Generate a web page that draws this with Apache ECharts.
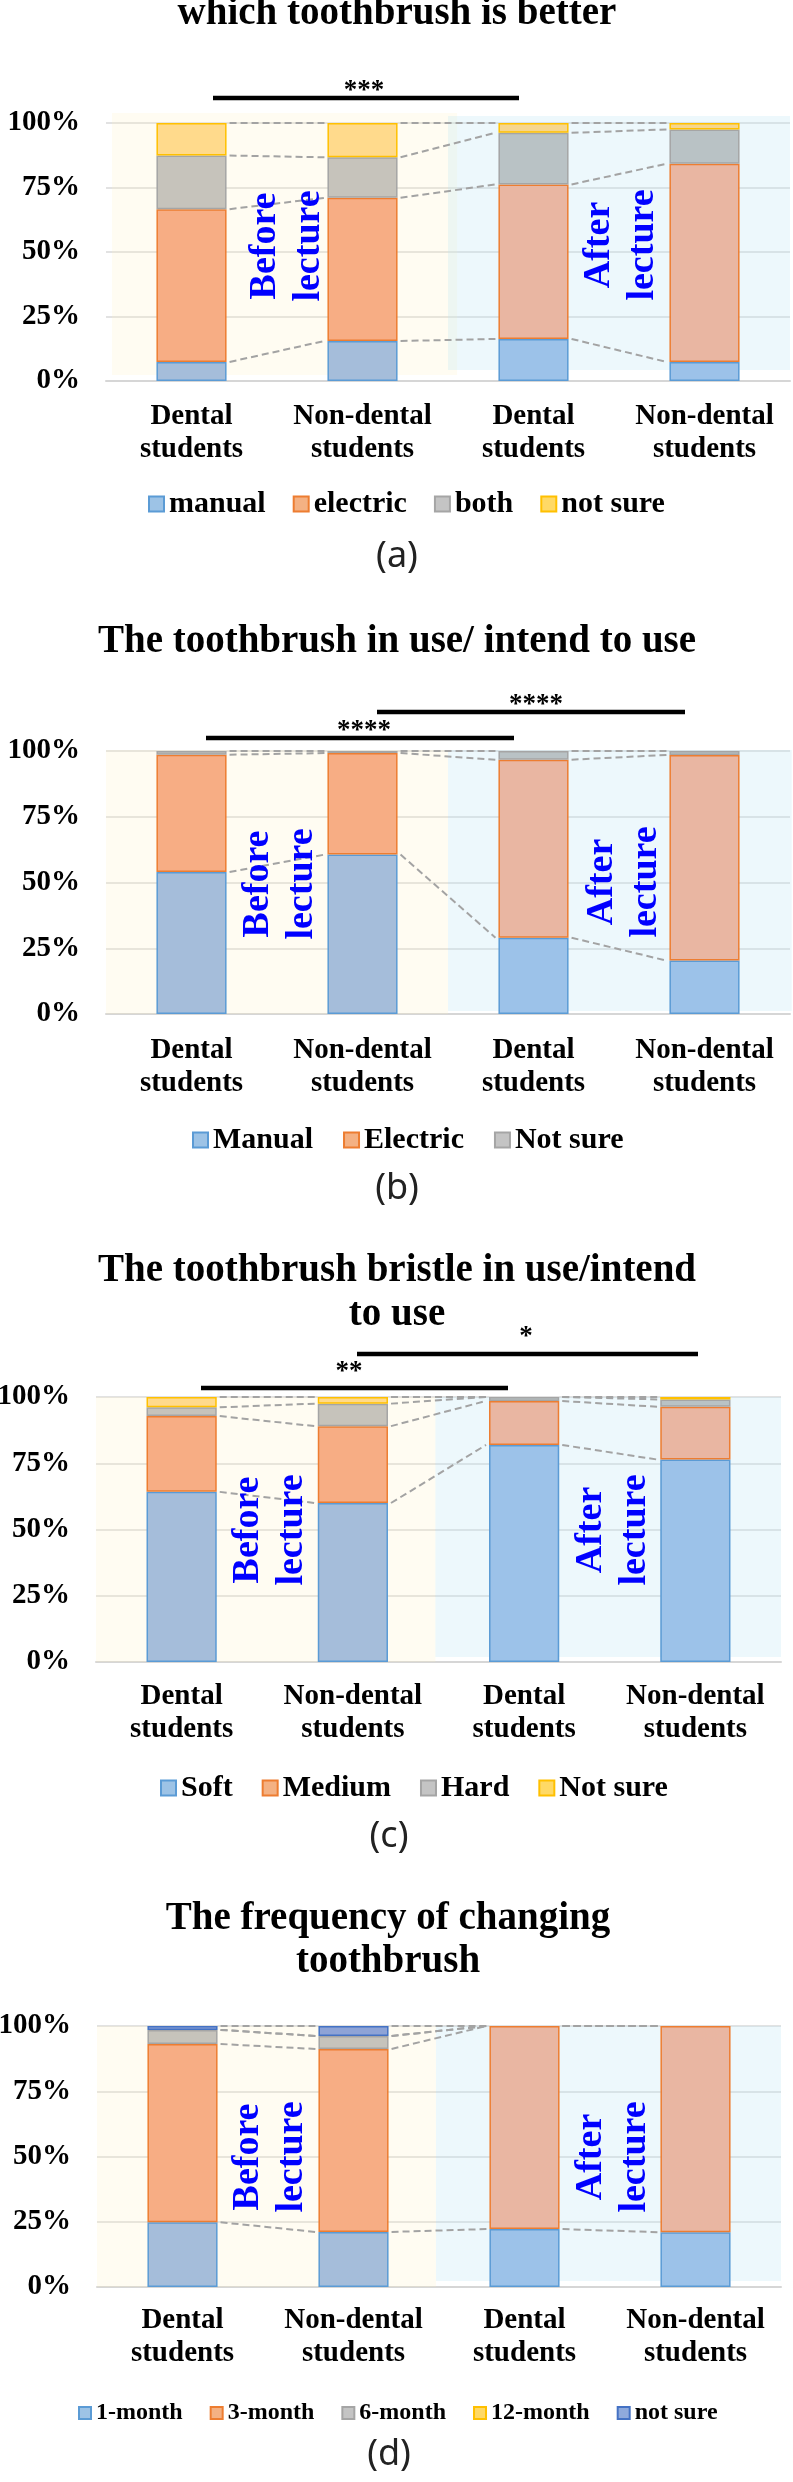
<!DOCTYPE html>
<html>
<head>
<meta charset="utf-8">
<style>
html,body{margin:0;padding:0;background:#fff;}
.p{position:absolute;left:0;width:793px;}
</style>
<script src="https://cdn.jsdelivr.net/npm/echarts@6/dist/echarts.min.js"></script>
</head>
<body>
<div id="pa" class="p" style="top:0;height:620px"></div>
<div id="pb" class="p" style="top:620px;height:620px"></div>
<div id="pc" class="p" style="top:1240px;height:620px"></div>
<div id="pd" class="p" style="top:1860px;height:622px"></div>
<script>
// ---------- DATA ----------
const categories = ['Dental\nstudents', 'Non-dental\nstudents', 'Dental\nstudents', 'Non-dental\nstudents'];
const yTicks = [0, 25, 50, 75, 100];

// (a) which toothbrush is better
const aTitle = 'which toothbrush is better';
const aNames = ['manual', 'electric', 'both', 'not sure'];
const aManual   = [7.4, 15.5, 16.3, 7.4];
const aElectric = [59.2, 55.5, 59.9, 76.8];
const aBoth     = [20.8, 15.7, 20.0, 13.3];
const aNotSure  = [12.6, 13.3, 3.8, 2.5];

// (b) The toothbrush in use/ intend to use
const bTitle = 'The toothbrush in use/ intend to use';
const bNames = ['Manual', 'Electric', 'Not sure'];
const bManual   = [54.0, 60.6, 29.0, 20.3];
const bElectric = [44.6, 38.6, 67.7, 78.2];
const bNotSure  = [1.4, 0.8, 3.3, 1.5];

// (c) The toothbrush bristle in use/intend to use
const cTitle = 'The toothbrush bristle in use/intend\nto use';
const cNames = ['Soft', 'Medium', 'Hard', 'Not sure'];
const cSoft    = [64.2, 60.0, 81.9, 76.4];
const cMedium  = [28.6, 29.0, 16.6, 19.9];
const cHard    = [3.3, 8.5, 1.5, 2.8];
const cNotSure = [3.9, 2.5, 0, 0.9];

// (d) The frequency of changing toothbrush
const dTitle = 'The frequency of changing\ntoothbrush';
const dNames = ['1-month', '3-month', '6-month', '12-month', 'not sure'];
const d1m  = [24.8, 21.1, 22.2, 21.0];
const d3m  = [68.3, 70.1, 77.8, 79.0];
const d6m  = [5.4, 5.0, 0, 0];
const d12m = [0, 0, 0, 0];
const dNS  = [1.5, 3.8, 0, 0];

const periodLabels = ['Before\nlecture', 'After\nlecture'];

// ---------- STYLE ----------
const SERIF = 'Liberation Serif';
// [legend fill, before-lecture fill, after-lecture fill, border]
const C = {
  blue:   ['#9DC3E6', '#A5BDDA', '#9CC2E9', '#5B9BD5'],
  orange: ['#F4B183', '#F7AD84', '#E9B6A2', '#ED7D31'],
  gray:   ['#C4C4C4', '#C6C3BB', '#B9C2C5', '#A5A5A5'],
  yellow: ['#FFD966', '#FFDA8C', '#F6D68E', '#FFC000'],
  navy:   ['#8FAADC', '#8EA3D6', '#8EA8DC', '#4472C4']
};
const BEFORE_TINT = 'rgba(255,240,190,0.2)';
const AFTER_TINT  = 'rgba(190,230,245,0.27)';

function txt(size) {
  return { color: '#000', fontFamily: SERIF, fontWeight: 'bold', fontSize: size };
}

function makePanel(id, cfg) {
  const chart = echarts.init(document.getElementById(id), null, { renderer: 'canvas' });
  const n = categories.length;
  const series = cfg.series.map(s => ({
    name: s.name, type: 'bar', stack: 'tot', barWidth: '41%',
    data: s.data.map((v, i) => v === 0 ? '-' : { value: v, itemStyle: { color: i < 2 ? s.col[1] : s.col[2] } }),
    itemStyle: { color: s.col[0], borderColor: s.col[3], borderWidth: 1.5 },
    emphasis: { disabled: true }, silent: true, z: 3
  }));
  const cum = [];
  for (let i = 0; i < n; i++) {
    let acc = 0;
    cum.push(cfg.series.map(s => (acc += s.data[i])));
  }
  const lineData = [];
  for (let i = 0; i < n - 1; i++)
    for (let k = 0; k < cfg.series.length; k++)
      lineData.push([i, cum[i][k], cum[i + 1][k]]);

  series.push({
    type: 'custom', silent: true, z: 1, clip: false,
    encode: { x: 0, y: 2 },
    data: cfg.bands.map(b => [b.from, b.to, b.top, b.bottom, b.padL, b.padR]),
    renderItem: (params, api) => {
      const band = api.size([1, 0])[0];
      const pT = api.coord([api.value(0), api.value(2)]);
      const pB = api.coord([api.value(1), api.value(3)]);
      const x1 = pT[0] - band / 2 + api.value(4) * band;
      const x2 = pB[0] + band / 2 + api.value(5) * band;
      return { type: 'rect', shape: { x: x1, y: pT[1], width: x2 - x1, height: pB[1] - pT[1] },
               style: { fill: params.dataIndex === 0 ? BEFORE_TINT : AFTER_TINT } };
    }
  });
  series.push({
    type: 'custom', silent: true, z: 4, clip: false,
    encode: { x: 0, y: 1 },
    data: lineData,
    renderItem: (params, api) => {
      const i = api.value(0);
      const p1 = api.coord([i, api.value(1)]);
      const p2 = api.coord([i + 1, api.value(2)]);
      const half = api.size([1, 0])[0] * 0.41 / 2;
      return { type: 'line', shape: { x1: p1[0] + half + 3, y1: p1[1], x2: p2[0] - half - 3, y2: p2[1] },
               style: { stroke: '#A3A3A3', lineWidth: 2, lineDash: [7, 4] } };
    }
  });

  const g = [];
  g.push({ type: 'text', x: cfg.title.x, y: cfg.title.y, z: 100,
    style: { text: cfg.title.text, fontFamily: SERIF, fontWeight: 'bold', fontSize: 39, fill: '#000', align: 'center', verticalAlign: 'middle', lineHeight: cfg.title.lh || 44 } });
  g.push({ type: 'text', x: cfg.tag.x, y: cfg.tag.y, z: 100,
    style: { text: cfg.tag.text, fontFamily: 'Noto Sans', fontSize: 36, fill: '#222', align: 'center', verticalAlign: 'middle' } });
  (cfg.sig || []).forEach(s => {
    g.push({ type: 'line', z: 100, shape: { x1: s.x1, y1: s.y, x2: s.x2, y2: s.y }, style: { stroke: '#000', lineWidth: 4.5 } });
    g.push({ type: 'text', x: s.tx, y: s.ty, z: 100,
      style: { text: s.text, fontFamily: SERIF, fontWeight: 'bold', fontSize: 27, fill: '#000', align: 'center', verticalAlign: 'middle' } });
  });
  cfg.period.forEach((p, i) => {
    g.push({ type: 'text', x: p.x, y: p.y, rotation: Math.PI / 2, z: 100,
      style: { text: periodLabels[i], fontFamily: SERIF, fontWeight: 'bold', fontSize: 38, fill: '#0000FF', align: 'center', verticalAlign: 'middle', lineHeight: 44 } });
  });

  chart.setOption({
    animation: false,
    textStyle: { fontFamily: SERIF, fontWeight: 'bold', color: '#000' },
    grid: Object.assign({ outerBoundsMode: 'none', containLabel: false }, cfg.grid),
    xAxis: {
      type: 'category', data: categories,
      axisLine: { lineStyle: { color: '#D6D6D6', width: 2 } },
      axisTick: { show: false },
      axisLabel: Object.assign(txt(29), {
        interval: 0, margin: cfg.xMargin, lineHeight: 33,
        formatter: v => '{s|' + v.split('\n').join('}\n{s|') + '}',
        rich: { s: Object.assign(txt(29), { lineHeight: 33 }) }
      })
    },
    yAxis: {
      type: 'value', min: yTicks[0], max: yTicks[yTicks.length - 1], interval: yTicks[1] - yTicks[0],
      axisLine: { show: false }, axisTick: { show: false },
      splitLine: { lineStyle: { color: '#D9D9D9', width: 1.5 } },
      axisLabel: Object.assign(txt(29), {
        margin: 26,
        formatter: v => '{s|' + v + '%}',
        rich: { s: txt(29) }
      })
    },
    legend: {
      data: cfg.series.map(s => s.name), icon: 'rect', selectedMode: false,
      left: cfg.legend.left, top: cfg.legend.top, itemWidth: cfg.legend.sq, itemHeight: cfg.legend.sq, itemGap: cfg.legend.gap,
      formatter: name => '{s|' + name + '}',
      textStyle: Object.assign(txt(cfg.legend.fs), {
        lineHeight: cfg.legend.fs,
        rich: { s: Object.assign(txt(cfg.legend.fs), { lineHeight: cfg.legend.fs }) }
      })
    },
    graphic: g,
    series: series
  });
}

makePanel('pa', {
  series: [
    { name: aNames[0], data: aManual, col: C.blue },
    { name: aNames[1], data: aElectric, col: C.orange },
    { name: aNames[2], data: aBoth, col: C.gray },
    { name: aNames[3], data: aNotSure, col: C.yellow }
  ],
  grid: { left: 106, right: 3, top: 123, height: 258 },
  xMargin: 19,
  bands: [
    { from: 0, to: 1, top: 103.9, bottom: 2.3, padL: 0.035, padR: 0.053 },
    { from: 2, to: 3, top: 102.7, bottom: 4.3, padL: 0, padR: 0 }
  ],
  legend: { left: 143, top: 484, sq: 15, gap: 27, fs: 30 },
  title: { text: aTitle, x: 397, y: 14 },
  tag: { text: '(a)', x: 397, y: 557 },
  sig: [ { x1: 213, x2: 519, y: 98, text: '***', tx: 364, ty: 91 } ],
  period: [ { x: 287, y: 246 }, { x: 621, y: 245 } ]
});

makePanel('pb', {
  series: [
    { name: bNames[0], data: bManual, col: C.blue },
    { name: bNames[1], data: bElectric, col: C.orange },
    { name: bNames[2], data: bNotSure, col: C.gray }
  ],
  grid: { left: 106, right: 3, top: 131, height: 263 },
  xMargin: 20,
  bands: [
    { from: 0, to: 1, top: 100.4, bottom: 0, padL: 0, padR: 0 },
    { from: 2, to: 3, top: 100.4, bottom: 1.1, padL: 0, padR: 0.01 }
  ],
  legend: { left: 187, top: 500, sq: 15, gap: 30, fs: 30 },
  title: { text: bTitle, x: 397, y: 22 },
  tag: { text: '(b)', x: 397, y: 569 },
  sig: [
    { x1: 206, x2: 514, y: 118, text: '****', tx: 364, ty: 111 },
    { x1: 377, x2: 685, y: 92, text: '****', tx: 536, ty: 85 }
  ],
  period: [ { x: 280, y: 264 }, { x: 624, y: 262 } ]
});

makePanel('pc', {
  series: [
    { name: cNames[0], data: cSoft, col: C.blue },
    { name: cNames[1], data: cMedium, col: C.orange },
    { name: cNames[2], data: cHard, col: C.gray },
    { name: cNames[3], data: cNotSure, col: C.yellow }
  ],
  grid: { left: 96, right: 12, top: 157, height: 265 },
  xMargin: 18,
  bands: [
    { from: 0, to: 1, top: 100, bottom: 0, padL: 0, padR: -0.018 },
    { from: 2, to: 3, top: 100, bottom: 1.9, padL: -0.018, padR: 0 }
  ],
  legend: { left: 155, top: 528, sq: 15, gap: 29, fs: 30 },
  title: { text: cTitle, x: 397, y: 53 },
  tag: { text: '(c)', x: 389, y: 597 },
  sig: [
    { x1: 357, x2: 698, y: 114, text: '*', tx: 526, ty: 97 },
    { x1: 201, x2: 508, y: 148, text: '**', tx: 349, ty: 132 }
  ],
  period: [ { x: 270, y: 290 }, { x: 613, y: 290 } ]
});

makePanel('pd', {
  series: [
    { name: dNames[0], data: d1m, col: C.blue },
    { name: dNames[1], data: d3m, col: C.orange },
    { name: dNames[2], data: d6m, col: C.gray },
    { name: dNames[3], data: d12m, col: C.yellow },
    { name: dNames[4], data: dNS, col: C.navy }
  ],
  grid: { left: 97, right: 12, top: 166, height: 261 },
  xMargin: 17,
  bands: [
    { from: 0, to: 1, top: 100, bottom: 0, padL: 0, padR: -0.018 },
    { from: 2, to: 3, top: 100, bottom: 2.3, padL: -0.018, padR: 0 }
  ],
  legend: { left: 73, top: 536, sq: 12, gap: 27, fs: 24 },
  title: { text: dTitle, x: 388, y: 80, lh: 43 },
  tag: { text: '(d)', x: 389, y: 595 },
  sig: [],
  period: [ { x: 270, y: 297 }, { x: 613, y: 297 } ]
});
</script>
</body>
</html>
